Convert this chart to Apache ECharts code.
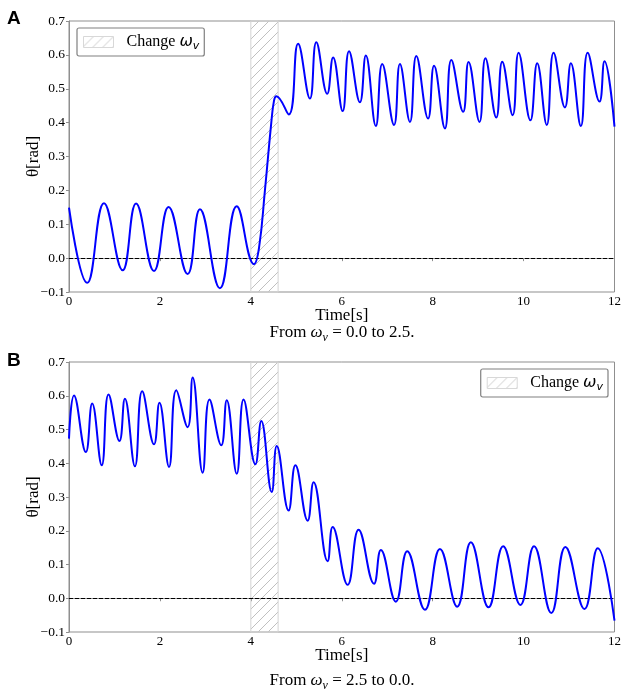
<!DOCTYPE html>
<html>
<head>
<meta charset="utf-8">
<script src="https://cdn.jsdelivr.net/npm/echarts@6/dist/echarts.min.js"></script>
<style>
html,body{margin:0;padding:0;background:#fff;}
#chart{width:624px;height:694px;}
</style>
</head>
<body>
<div id="chart"></div>
<script>
// ---- data ----
const tA = [0, 0.40, 0.77, 1.18, 1.475, 1.87, 2.19, 2.61, 2.88, 3.32, 3.69, 4.07, 4.18, 4.31, 4.45, 4.51, 4.56, 4.835, 5.04, 5.30, 5.44, 5.68, 5.81, 6.02, 6.16, 6.40, 6.53, 6.75, 6.89, 7.15, 7.28, 7.50, 7.64, 7.90, 8.03, 8.27, 8.41, 8.67, 8.79, 9.03, 9.16, 9.40, 9.53, 9.76, 9.89, 10.15, 10.30, 10.51, 10.66, 10.91, 11.04, 11.26, 11.41, 11.67, 11.78, 12.0];
const vA = [0.149, -0.073, 0.162, -0.036, 0.161, -0.038, 0.151, -0.047, 0.144, -0.089, 0.153, -0.018, 0.03, 0.20, 0.40, 0.465, 0.478, 0.424, 0.633, 0.471, 0.637, 0.485, 0.592, 0.434, 0.611, 0.46, 0.598, 0.39, 0.573, 0.393, 0.573, 0.402, 0.597, 0.412, 0.568, 0.383, 0.585, 0.432, 0.579, 0.402, 0.59, 0.415, 0.58, 0.422, 0.606, 0.407, 0.575, 0.393, 0.606, 0.445, 0.575, 0.39, 0.606, 0.462, 0.581, 0.388];
const tB = [0, 0.11, 0.37, 0.51, 0.72, 0.87, 1.11, 1.23, 1.45, 1.61, 1.87, 1.99, 2.20, 2.36, 2.61, 2.72, 2.94, 3.09, 3.35, 3.47, 3.69, 3.84, 4.10, 4.23, 4.46, 4.57, 4.83, 4.98, 5.25, 5.38, 5.69, 5.80, 6.13, 6.37, 6.71, 6.86, 7.19, 7.44, 7.83, 8.16, 8.54, 8.84, 9.23, 9.55, 9.93, 10.23, 10.61, 10.92, 11.34, 11.63, 12.0];
const vB = [0.473, 0.601, 0.433, 0.577, 0.394, 0.604, 0.466, 0.591, 0.391, 0.613, 0.456, 0.579, 0.389, 0.616, 0.507, 0.654, 0.372, 0.589, 0.453, 0.587, 0.369, 0.589, 0.397, 0.525, 0.315, 0.451, 0.26, 0.394, 0.23, 0.344, 0.11, 0.211, 0.04, 0.203, 0.043, 0.143, -0.01, 0.139, -0.034, 0.146, -0.025, 0.166, -0.027, 0.154, -0.02, 0.154, -0.044, 0.152, -0.032, 0.148, -0.066];
const changeSpan = [4.0, 4.6];
const zeroLevel = 0;
const xRange = [0, 12, 2];      // min, max, interval
const yRange = [-0.1, 0.7, 0.1];
const panelLabels = ['A', 'B'];
const captions = [['0.0', '2.5'], ['2.5', '0.0']];
const legendName = 'Change';

// ---- styling helpers ----
function hatchPattern(size, color) {
  const c = document.createElement('canvas');
  c.width = size; c.height = size;
  const g = c.getContext('2d');
  g.strokeStyle = color; g.lineWidth = 0.8;
  g.beginPath();
  g.moveTo(0, size); g.lineTo(size, 0);
  g.moveTo(-2, 2); g.lineTo(2, -2);
  g.moveTo(size - 2, size + 2); g.lineTo(size + 2, size - 2);
  g.stroke();
  return { image: c, repeat: 'repeat' };
}
const hatch = hatchPattern(10, '#b0b0b0');
const hatchLegend = hatchPattern(10, '#c0c0c0');

const SERIF = 'Liberation Serif';
const frameColor = '#8f8f8f';
const pairs = (t, v) => t.map((x, i) => [x, v[i]]);
const fmtY = v => (v < 0 ? '\u2212' : '') + Math.abs(v).toFixed(1);

const grids = [
  { left: 69, right: 9, top: 21, height: 271 },
  { left: 69, right: 9, top: 362, height: 270 }
];

function xAxis(i) {
  return {
    type: 'value', gridIndex: i, min: xRange[0], max: xRange[1], interval: xRange[2],
    name: 'Time[s]', nameLocation: 'middle', nameGap: 15, nameMoveOverlap: false,
    nameTextStyle: { fontFamily: SERIF, fontSize: 17, color: '#000' },
    axisLine: { show: true, lineStyle: { color: frameColor, width: 1 } },
    axisTick: { show: true, length: 3, lineStyle: { color: frameColor } },
    axisLabel: { fontFamily: SERIF, fontSize: 13, color: '#000', margin: 3 },
    splitLine: { show: false }
  };
}
function yAxis(i) {
  return {
    type: 'value', gridIndex: i, min: yRange[0], max: yRange[1], interval: yRange[2],
    name: '\u03b8[rad]', nameLocation: 'middle', nameGap: 27, nameRotate: 90, nameMoveOverlap: false,
    nameTextStyle: { fontFamily: SERIF, fontSize: 17, color: '#000' },
    axisLine: { show: true, lineStyle: { color: frameColor, width: 1 } },
    axisTick: { show: true, length: 3, lineStyle: { color: frameColor } },
    axisLabel: { fontFamily: SERIF, fontSize: 13.5, color: '#000', margin: 4, formatter: fmtY },
    splitLine: { show: false }
  };
}

function dataSeries(i, t, v) {
  return {
    type: 'line', xAxisIndex: i, yAxisIndex: i, data: pairs(t, v),
    smooth: 0.45, showSymbol: false, symbol: 'none', z: 5,
    lineStyle: { color: '#0000ff', width: 2 }, silent: true,
    markLine: {
      silent: true, symbol: 'none', label: { show: false },
      lineStyle: { color: '#000', type: [4, 2], width: 1 },
      data: [{ yAxis: zeroLevel }]
    }
  };
}
function changeSeries(i) {
  return {
    type: 'line', name: legendName, xAxisIndex: i, yAxisIndex: i, data: [],
    itemStyle: { color: hatch }, lineStyle: { color: '#aaa' }, z: 1,
    markArea: {
      silent: true,
      itemStyle: { color: hatch, borderColor: '#d4d4d4', borderWidth: 1 },
      data: [[{ xAxis: changeSpan[0] }, { xAxis: changeSpan[1] }]]
    }
  };
}

const legendRich = {
  w: { fontFamily: 'DejaVu Sans', fontStyle: 'italic', fontSize: 16, lineHeight: 20, color: '#000' },
  s: { fontFamily: 'DejaVu Sans', fontStyle: 'italic', fontSize: 11, lineHeight: 12, verticalAlign: 'bottom', color: '#000' }
};
function legend(pos) {
  return Object.assign({
    selectedMode: false, orient: 'horizontal',
    data: [{ name: legendName, icon: 'rect', itemStyle: { color: hatchLegend, borderColor: '#d8d8d8', borderWidth: 1 } }],
    itemWidth: 30, itemHeight: 11,
    padding: [4, 5, 4, 6], borderColor: '#808080', borderWidth: 1.2, borderRadius: 2,
    formatter: () => 'Change {w|\u03c9}{s|v}',
    textStyle: { fontFamily: SERIF, fontSize: 16, lineHeight: 20, color: '#000', padding: [0, 0, 0, 8], rich: legendRich }
  }, pos);
}

const capRich = {
  w: { fontFamily: SERIF, fontStyle: 'italic', fontSize: 17, lineHeight: 22, fill: '#000' },
  s: { fontFamily: SERIF, fontStyle: 'italic', fontSize: 12, lineHeight: 12, verticalAlign: 'bottom', fill: '#000' }
};
function caption(y, c) {
  return {
    type: 'text', x: 342, y: y, silent: true,
    style: {
      text: 'From {w|\u03c9}{s|v} = ' + c[0] + ' to ' + c[1] + '.',
      font: '17px "' + SERIF + '"', fill: '#000', align: 'center', verticalAlign: 'middle',
      lineHeight: 22, rich: capRich
    }
  };
}
function panelLabel(y, txt) {
  return {
    type: 'text', x: 7, y: y, silent: true,
    style: { text: txt, font: 'bold 19px "Liberation Sans"', fill: '#000', align: 'left', verticalAlign: 'top' }
  };
}

const chart = echarts.init(document.getElementById('chart'), null, { renderer: 'canvas' });
chart.setOption({
  animation: false,
  backgroundColor: '#fff',
  grid: grids.map(g => Object.assign({ show: true, borderColor: frameColor, borderWidth: 1, backgroundColor: 'transparent' }, g)),
  xAxis: [xAxis(0), xAxis(1)],
  yAxis: [yAxis(0), yAxis(1)],
  legend: [legend({ left: 77, top: 28 }), legend({ right: 16, top: 369 })],
  series: [changeSeries(0), dataSeries(0, tA, vA), changeSeries(1), dataSeries(1, tB, vB)],
  graphic: [
    panelLabel(9, panelLabels[0]),
    panelLabel(351, panelLabels[1]),
    caption(333, captions[0]),
    caption(681, captions[1])
  ]
});
</script>
</body>
</html>
